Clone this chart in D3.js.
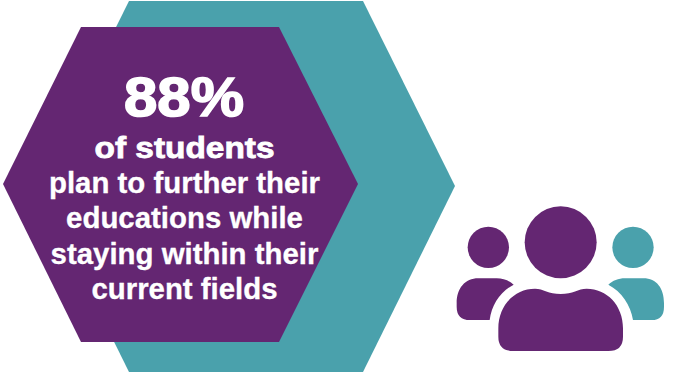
<!DOCTYPE html>
<html>
<head>
<meta charset="utf-8">
<script src="https://cdn.jsdelivr.net/npm/d3@7/dist/d3.min.js"></script>
<style>
html,body{margin:0;padding:0;background:#fff;overflow:hidden}
svg{display:block}
text{font-family:"Liberation Sans",Arial,sans-serif;font-weight:700;fill:#fff;text-anchor:middle}
</style>
</head>
<body>
<script>
// Statistic and its caption
const statValue = 88;
const statLead = "of students";
const captionLines = ["plan to further their", "educations while", "staying within their", "current fields"];

// Palette
const purple = "#642672";
const teal = "#4aa1ac";

const width = 673, height = 373;
const svg = d3.select("body").append("svg").attr("width", width).attr("height", height);

// Flat-topped hexagon through its left, shoulder and right x stops
function hexagon(x0, x1, x2, x3, yTop, yMid, yBot) {
  return d3.line()([[x1, yTop], [x2, yTop], [x3, yMid], [x2, yBot], [x1, yBot], [x0, yMid]]) + "Z";
}

svg.append("path").attr("d", hexagon(37, 129, 363, 455, 1, 186, 372)).attr("fill", teal);
svg.append("path").attr("d", hexagon(3, 81, 279, 358, 27, 184, 342)).attr("fill", purple);

// Headline number, widened and thickened for a black-weight look
svg.append("text")
  .attr("x", 184).attr("y", 116)
  .attr("font-size", 55)
  .attr("textLength", 120).attr("lengthAdjust", "spacingAndGlyphs")
  .attr("stroke", "#fff").attr("stroke-width", 1.6)
  .text(`${statValue}%`);

svg.append("text")
  .attr("x", 184.5).attr("y", 158)
  .attr("font-size", 29.5)
  .attr("textLength", 180).attr("lengthAdjust", "spacingAndGlyphs")
  .attr("stroke", "#fff").attr("stroke-width", 0.8)
  .text(statLead);

const lineY = d3.scalePoint().domain(captionLines).range([193, 299]);
svg.selectAll("text.caption").data(captionLines).join("text")
  .attr("class", "caption")
  .attr("x", 184.5)
  .attr("y", d => lineY(d))
  .attr("font-size", 29.4)
  .attr("stroke", "#fff").attr("stroke-width", 0.3)
  .text(d => d);

// People icon, laid out on a 700x549 design grid
const ix = d3.scaleLinear().domain([0, 700]).range([440, 440 + 700 / 3]);
const iy = d3.scaleLinear().domain([0, 549]).range([190, 190 + 549 / 3]);
const k = 1 / 3;

function figure(commands) {
  const p = d3.path();
  commands.forEach(([op, ...a]) => {
    const c = a.map((v, i) => i % 2 ? iy(v) : ix(v));
    if (op === "M") p.moveTo(...c);
    if (op === "L") p.lineTo(...c);
    if (op === "Q") p.quadraticCurveTo(...c);
    if (op === "C") p.bezierCurveTo(...c);
    if (op === "Z") p.closePath();
  });
  return p.toString();
}

const heads = [
  { x: 362, y: 157, r: 108, fill: purple },
  { x: 145, y: 172, r: 62, fill: purple },
  { x: 579, y: 172, r: 62, fill: teal }
];
svg.selectAll("circle").data(heads).join("circle")
  .attr("cx", d => ix(d.x)).attr("cy", d => iy(d.y)).attr("r", d => d.r * k).attr("fill", d => d.fill);

const bodies = [
  { fill: purple, cmd: [["M",175,415],["C",175,345,225,296,285,296],["C",310,296,325,312,362,312],["C",399,312,414,296,440,296],["C",500,296,549,345,549,415],["L",549,440],["Q",549,483,505,483],["L",220,483],["Q",175,483,175,440],["Z"]] },
  { fill: purple, cmd: [["M",50,340],["C",50,295,75,265,115,265],["L",170,265],["C",190,265,208,272,221,284],["C",180,305,155,345,149,390],["L",90,390],["Q",50,390,50,350],["Z"]] },
  { fill: teal, cmd: [["M",672,340],["C",672,295,650,265,610,265],["L",555,265],["C",535,265,518,272,505,284],["C",545,305,572,345,579,390],["L",635,390],["Q",672,390,672,350],["Z"]] }
];
svg.selectAll("path.body").data(bodies).join("path")
  .attr("class", "body")
  .attr("d", d => figure(d.cmd))
  .attr("fill", d => d.fill);
</script>
</body>
</html>
